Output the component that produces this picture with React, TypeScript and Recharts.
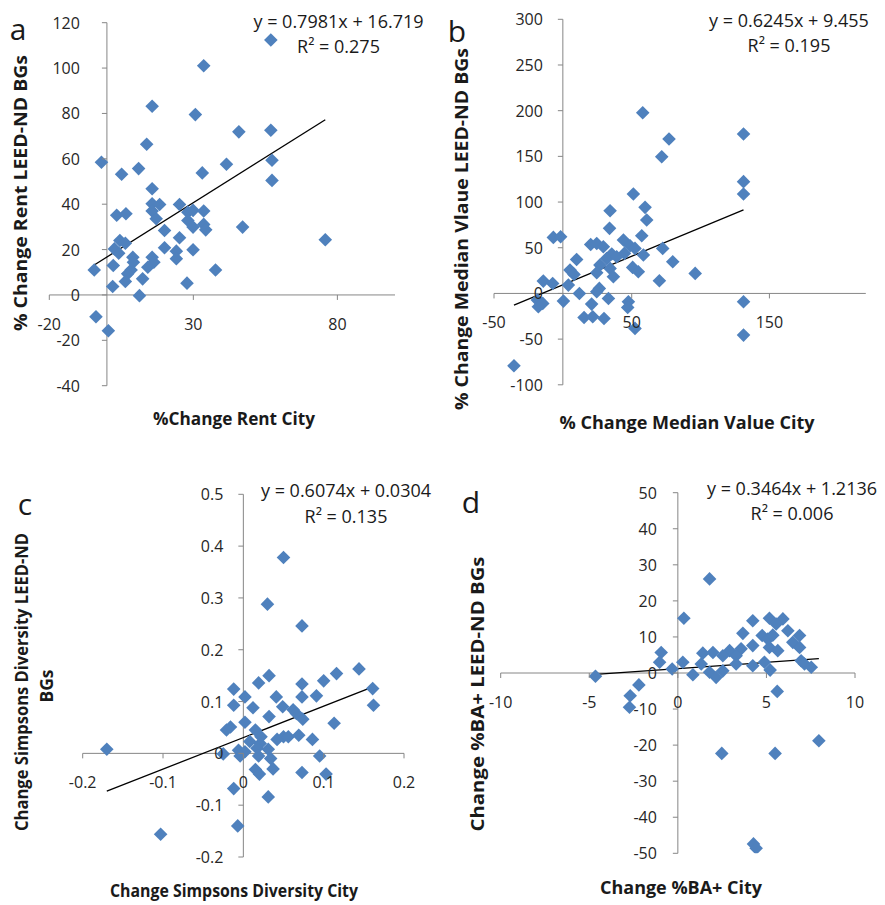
import React from "react";
import { ScatterChart, Scatter, XAxis, YAxis, ReferenceLine } from "recharts";

// panel a: % change rent
const rentCity = [56.9, 33.6, 15.7, 30.7, 45.8, 56.9, 13.8, -1.9, 57.3, 41.5, 11, 5.1, 33.1, 57.3, 15.7, 15.7, 18.3, 3.4, 6.6, 15.7, 17.1, 25.2, 28.1, 29.9, 33.6, 28.1, 29.9, 33.6, 34.3, 47.1, 20, 4.5, 6.4, 2.6, 4.1, 25.2, 20, 24.1, 24.1, 29.9, 9, 15.7, 16.3, 14.2, 8.4, 7.2, 6.4, 2.2, -4.4, 2, 12.4, 11.3, 27.8, 37.7, 75.8, -3.8, 0.5, 9.2];
const rentBg = [112.4, 101, 83.2, 79.5, 71.9, 72.6, 66.4, 58.5, 59.4, 57.6, 55.7, 53.2, 53.8, 50.5, 46.8, 40.2, 39.9, 35.1, 35.8, 37, 33.6, 39.9, 36.5, 37.3, 37, 32.8, 29.9, 31.1, 28.7, 29.9, 28.4, 24, 22.8, 20.3, 18.4, 25.2, 20.8, 19.3, 16, 19.9, 16.6, 16.6, 14.4, 12.2, 11, 9.3, 5.9, 13, 11, 3.7, 7.1, -0.3, 5.2, 11, 24.3, -9.6, -15.8, 14.4];
const rentXTicks = [-20, 30, 80];
const rentYTicks = [-40, -20, 0, 20, 40, 60, 80, 100, 120];

// panel b: % change median value
const valueCity = [58, 131.2, 77.1, 71.8, 131.2, 131.2, 51.2, 59.7, 34.3, 60.9, 33.9, -6.9, -1.6, 57.3, 44, 20.2, 24.6, 29.4, 48.8, 52.4, 72.5, 44.7, 58.5, 35.5, 31.8, 10, 79.8, 26.9, 34.3, 50.7, 5.2, 54.8, 96.1, 8.1, 36.7, 24.6, -14.2, -7.4, 4, 70.1, 26.5, 24.6, 12, -18.5, -14.6, 0.4, 33.1, 47.6, 47.1, -17.8, 20.9, 15.4, 21.7, 29.9, 52.4, 131.2, 131.2, -35.5, 39.1];
const valueBg = [197.8, 174.5, 169, 149.6, 122.3, 108.8, 108.8, 94.2, 90.5, 80.3, 71.2, 61.3, 62, 63.1, 58.4, 53.6, 54.7, 51.1, 52.2, 49.3, 49.3, 43.8, 42, 43.1, 38.3, 37.2, 34.7, 31, 27.4, 28.5, 25.5, 23.7, 21.9, 20.8, 18.2, 22.6, 13.5, 10.9, 9.1, 13.9, 5.5, 1.8, 0, -7.3, -10.9, -8.4, -5.5, -9.1, -15.3, -14.6, -11.7, -26.3, -25.5, -27.4, -38.3, -9.1, -45.6, -79.2, 40.1];
const valueXTicks = [-50, 50, 150];
const valueYTicks = [-100, -50, 0, 50, 100, 150, 200, 250, 300];

// panel c: change simpsons diversity
const divCity = [0.05, 0.03, 0.073, 0.144, 0.116, 0.032, 0.019, 0.073, 0.1, 0.161, -0.012, 0.041, 0.002, 0.073, 0.091, -0.012, 0.012, 0.162, 0.049, 0.062, 0.066, 0.032, 0.074, 0.002, 0.113, -0.021, -0.016, 0.015, 0.022, 0.042, 0.05, 0.056, 0.069, 0.086, 0.008, 0.021, 0.017, 0.031, -0.006, 0.002, -0.17, -0.025, -0.004, 0.019, 0.034, 0.095, 0.015, 0.02, 0.037, 0.073, 0.103, -0.012, 0.031, -0.007, -0.103];
const divBg = [0.378, 0.288, 0.246, 0.163, 0.154, 0.15, 0.136, 0.134, 0.14, 0.125, 0.124, 0.109, 0.109, 0.109, 0.111, 0.093, 0.088, 0.093, 0.09, 0.084, 0.077, 0.071, 0.066, 0.06, 0.058, 0.045, 0.051, 0.045, 0.032, 0.027, 0.032, 0.032, 0.035, 0.027, 0.023, 0.019, 0.01, 0.008, 0.006, 0.003, 0.008, -0.001, -0.005, -0.005, -0.01, -0.005, -0.031, -0.04, -0.03, -0.037, -0.04, -0.068, -0.084, -0.14, -0.156];
const divXTicks = [-0.2, -0.1, 0, 0.1, 0.2];
const divYTicks = [-0.2, -0.1, 0, 0.1, 0.2, 0.3, 0.4, 0.5];

// panel d: change %BA+
const baCity = [1.79, 0.34, 4.23, 5.17, 5.93, 5.55, 6.21, 3.67, 4.76, 6.87, 5.08, 5.36, 6.49, 4.23, 6.87, 5.17, 5.64, 2.92, 3.57, 1.98, 1.41, -0.94, 2.54, 3.29, 0.28, -1.03, 6.96, 7.15, 1.32, 3.29, 4.23, 4.89, 7.53, -0.32, 5.21, 1.79, 2.54, 0.85, 2.16, -4.65, -2.2, -2.69, -2.73, 5.61, 2.48, 5.49, 7.96, 4.27, 4.42];
const baBg = [26.1, 15.2, 14.5, 15.2, 15, 13.6, 11.7, 11, 10.4, 10.4, 9.4, 10.5, 8.5, 7.6, 7.1, 7.1, 6.2, 6.2, 6.7, 5.7, 5.5, 5.7, 4.8, 4.8, 3, 3, 3.4, 2.5, 2.5, 2.5, 2, 3, 1.6, 1.1, 0.8, 0.2, 0.6, -0.5, -1.2, -0.9, -3.3, -6.3, -9.5, -5.1, -22.3, -22.3, -18.8, -47.4, -48.6];
const baXTicks = [-10, -5, 0, 5, 10];
const baYTicks = [-50, -40, -30, -20, -10, 0, 10, 20, 30, 40, 50];

const FONT = '"Open Sans", sans-serif';
const AXIS = "#868686";
const BLUE = "#4F81BD";
const INK = "#262626";
const AXIS_SIZE = 20; // room reserved for the (custom drawn) axes

const Diamond = (props: any) => {
  const { cx, cy } = props;
  const r = 6.8;
  return <path d={`M${cx},${cy - r}L${cx + r},${cy}L${cx},${cy + r}L${cx - r},${cy}Z`} fill={BLUE} />;
};

const panels = [
  {
    box: { l: 0, t: 0, w: 442, h: 452 },
    plot: { l: 49.3, t: 22.7, r: 395, b: 385.7 },
    xs: rentCity, ys: rentBg, xDomain: [-20, 100], yDomain: [-40, 120],
    xTicks: rentXTicks, yTicks: rentYTicks, yGap: 27,
    slope: 0.7981, intercept: 16.719,
  },
  {
    box: { l: 442, t: 0, w: 443, h: 452 },
    plot: { l: 494, t: 19.3, r: 865.8, b: 384.8 },
    xs: valueCity, ys: valueBg, xDomain: [-50, 220], yDomain: [-100, 300],
    xTicks: valueXTicks, yTicks: valueYTicks, yGap: 20,
    slope: 0.6245, intercept: 9.455,
  },
  {
    box: { l: 0, t: 452, w: 442, h: 453 },
    plot: { l: 82.7, t: 494.3, r: 404, b: 857 },
    xs: divCity, ys: divBg, xDomain: [-0.2, 0.2], yDomain: [-0.2, 0.5],
    xTicks: divXTicks, yTicks: divYTicks, yGap: 20,
    slope: 0.6074, intercept: 0.0304,
  },
  {
    box: { l: 442, t: 452, w: 443, h: 453 },
    plot: { l: 500.7, t: 492.7, r: 855, b: 853.3 },
    xs: baCity, ys: baBg, xDomain: [-10, 10], yDomain: [-50, 50],
    xTicks: baXTicks, yTicks: baYTicks, yGap: 21,
    slope: 0.3464, intercept: 1.2136,
  },
];

function Panel({ cfg }: { cfg: any }) {
  const { box, plot, xs, ys, xDomain, yDomain } = cfg;
  const left = plot.l - box.l;
  const top = plot.t - box.t;
  const bottom = box.t + box.h - plot.b;
  const margin = { left: left - AXIS_SIZE, top, right: box.l + box.w - plot.r, bottom: bottom - AXIS_SIZE };
  const pw = plot.r - plot.l;
  const ph = plot.b - plot.t;
  // pixel of the zero lines inside this chart's svg
  const zeroX = left + ((0 - xDomain[0]) / (xDomain[1] - xDomain[0])) * pw;
  const zeroY = top + ((yDomain[1] - 0) / (yDomain[1] - yDomain[0])) * ph;
  const data = xs.map((x: number, i: number) => ({ x, y: ys[i] }));
  const x0 = Math.min(...xs);
  const x1 = Math.max(...xs);

  const xTick = (p: any) => (
    <g>
      <line x1={p.x} x2={p.x} y1={zeroY} y2={zeroY + 5} stroke={AXIS} />
      <text x={p.x} y={zeroY + 29} textAnchor="middle" dominantBaseline="central" fontFamily={FONT} fontSize={16} fill={INK}>
        {String(p.payload.value)}
      </text>
    </g>
  );
  const yTick = (p: any) => (
    <g>
      <line x1={zeroX - 5} x2={zeroX} y1={p.y} y2={p.y} stroke={AXIS} />
      <text x={zeroX - cfg.yGap} y={p.y} textAnchor="end" dominantBaseline="central" fontFamily={FONT} fontSize={16} fill={INK}>
        {String(p.payload.value)}
      </text>
    </g>
  );

  return (
    <div style={{ position: "absolute", left: box.l, top: box.t }}>
      <ScatterChart width={box.w} height={box.h} margin={margin}>
        <XAxis type="number" dataKey="x" domain={xDomain} ticks={cfg.xTicks} interval={0} allowDataOverflow
          height={AXIS_SIZE} axisLine={false} tickLine={false} tick={xTick} />
        <YAxis type="number" dataKey="y" domain={yDomain} ticks={cfg.yTicks} interval={0} allowDataOverflow
          width={AXIS_SIZE} axisLine={false} tickLine={false} tick={yTick} />
        <ReferenceLine y={0} stroke={AXIS} strokeWidth={1} />
        <ReferenceLine x={0} stroke={AXIS} strokeWidth={1} />
        <Scatter data={data} shape={<Diamond />} isAnimationActive={false} />
        <ReferenceLine
          segment={[{ x: x0, y: cfg.slope * x0 + cfg.intercept }, { x: x1, y: cfg.slope * x1 + cfg.intercept }]}
          stroke="#000" strokeWidth={1.3}
        />
      </ScatterChart>
    </div>
  );
}

const titleStyle = { fontFamily: FONT, fontSize: 17, fontWeight: 700, fill: "#1a1a1a" } as const;
const eqStyle = { fontFamily: FONT, fontSize: 18, fill: "#1a1a1a" } as const;
const letterStyle = { fontFamily: FONT, fontSize: 30, fill: "#1a1a1a" } as const;

// axis title drawn horizontally or rotated, stretched to the reference's length
const Title = ({ x, y, len, rot, children }: any) => (
  <text transform={`translate(${x},${y})${rot ? " rotate(-90)" : ""}`} textAnchor="middle" dominantBaseline="central"
    textLength={len} lengthAdjust="spacingAndGlyphs" {...titleStyle}>
    {children}
  </text>
);

export default function App() {
  return (
    <div style={{ position: "absolute", left: 0, top: 0, width: 885, height: 905, background: "#fff", overflow: "hidden" }}>
      {panels.map((p, i) => <Panel key={i} cfg={p} />)}
      <svg width={885} height={905} style={{ position: "absolute", left: 0, top: 0, pointerEvents: "none" }}>
        {/* panel letters */}
        <text x={18} y={40} textAnchor="middle" {...letterStyle}>a</text>
        <text x={457} y={42} textAnchor="middle" {...letterStyle}>b</text>
        <text x={25} y={515} textAnchor="middle" {...letterStyle}>c</text>
        <text x={471} y={513} textAnchor="middle" {...letterStyle}>d</text>

        {/* trendline equations */}
        <text x={338.5} y={28} textAnchor="middle" {...eqStyle}>y = 0.7981x + 16.719</text>
        <text x={338.5} y={53} textAnchor="middle" {...eqStyle}>R² = 0.275</text>
        <text x={789} y={27} textAnchor="middle" {...eqStyle}>y = 0.6245x + 9.455</text>
        <text x={789} y={52} textAnchor="middle" {...eqStyle}>R² = 0.195</text>
        <text x={346} y={497} textAnchor="middle" {...eqStyle}>y = 0.6074x + 0.0304</text>
        <text x={346} y={523} textAnchor="middle" {...eqStyle}>R² = 0.135</text>
        <text x={792} y={495} textAnchor="middle" {...eqStyle}>y = 0.3464x + 1.2136</text>
        <text x={792} y={520} textAnchor="middle" {...eqStyle}>R² = 0.006</text>

        {/* axis titles */}
        <Title x={234} y={418} len={162}>%Change Rent City</Title>
        <Title x={20} y={193} len={276} rot>% Change Rent LEED-ND BGs</Title>
        <Title x={687} y={422} len={255}>% Change Median Value City</Title>
        <Title x={461} y={229} len={362} rot>% Change Median Vlaue LEED-ND BGs</Title>
        <Title x={234} y={890} len={248}>Change Simpsons Diversity City</Title>
        <Title x={21} y={682} len={298} rot>Change Simpsons Diversity LEED-ND</Title>
        <Title x={46} y={686} len={33} rot>BGs</Title>
        <Title x={681} y={887} len={162}>Change %BA+ City</Title>
        <Title x={477} y={694} len={275} rot>Change %BA+ LEED-ND BGs</Title>
      </svg>
    </div>
  );
}
